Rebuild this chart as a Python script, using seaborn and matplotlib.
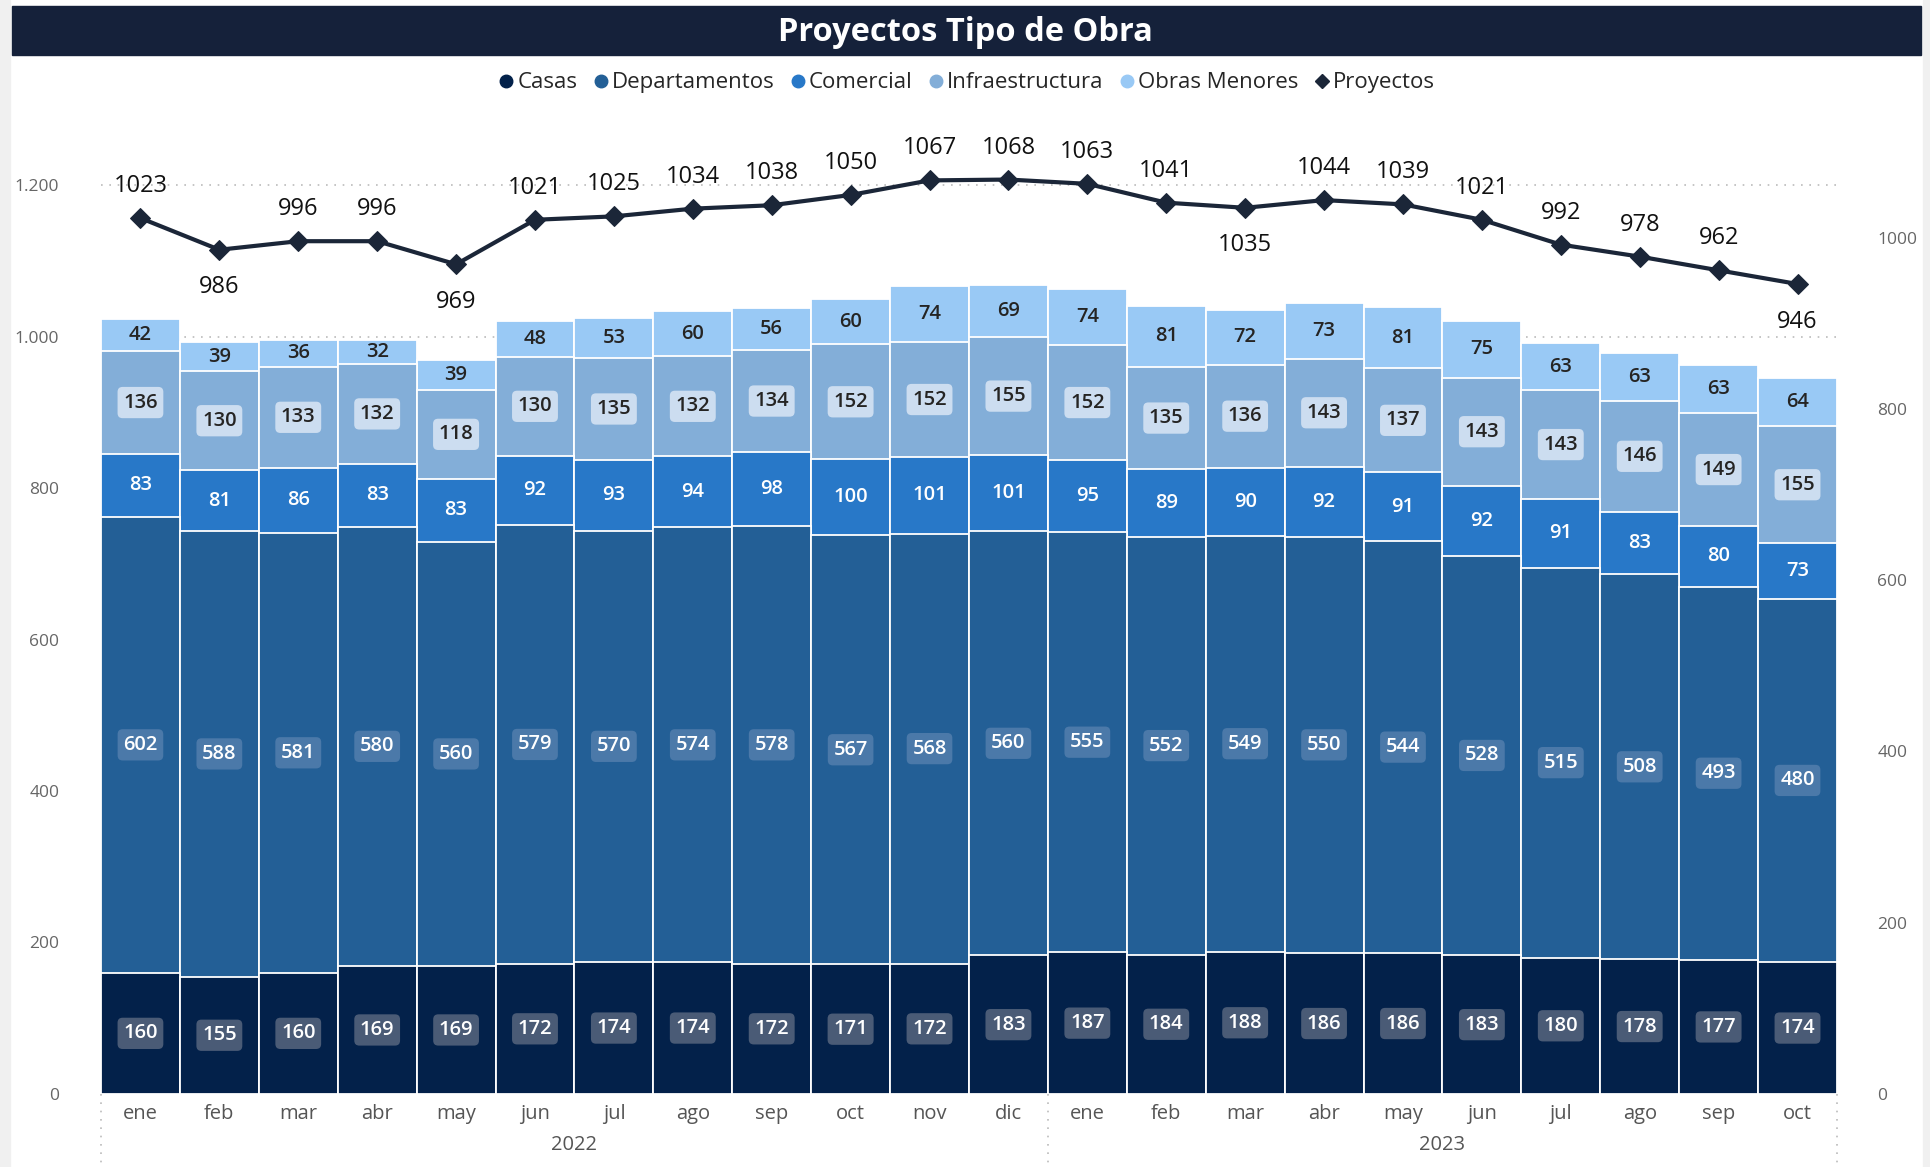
import matplotlib
matplotlib.use("Agg")
import matplotlib.pyplot as plt
import seaborn as sns
import numpy as np
import pandas as pd
from matplotlib.patches import Rectangle
from matplotlib.lines import Line2D
from matplotlib.ticker import FuncFormatter

# datos
meses = ["ene", "feb", "mar", "abr", "may", "jun", "jul", "ago", "sep", "oct", "nov", "dic",
         "ene", "feb", "mar", "abr", "may", "jun", "jul", "ago", "sep", "oct"]
anios = ["2022"] * 12 + ["2023"] * 10
casas = [160, 155, 160, 169, 169, 172, 174, 174, 172, 171, 172, 183,
         187, 184, 188, 186, 186, 183, 180, 178, 177, 174]
departamentos = [602, 588, 581, 580, 560, 579, 570, 574, 578, 567, 568, 560,
                 555, 552, 549, 550, 544, 528, 515, 508, 493, 480]
comercial = [83, 81, 86, 83, 83, 92, 93, 94, 98, 100, 101, 101,
             95, 89, 90, 92, 91, 92, 91, 83, 80, 73]
infraestructura = [136, 130, 133, 132, 118, 130, 135, 132, 134, 152, 152, 155,
                   152, 135, 136, 143, 137, 143, 143, 146, 149, 155]
obras_menores = [42, 39, 36, 32, 39, 48, 53, 60, 56, 60, 74, 69,
                 74, 81, 72, 73, 81, 75, 63, 63, 63, 64]
proyectos = [1023, 986, 996, 996, 969, 1021, 1025, 1034, 1038, 1050, 1067, 1068,
             1063, 1041, 1035, 1044, 1039, 1021, 992, 978, 962, 946]
etiqueta_abajo = [1, 4, 14, 21]

series = ["Casas", "Departamentos", "Comercial", "Infraestructura", "Obras Menores"]
valores = [casas, departamentos, comercial, infraestructura, obras_menores]
colores = ["#03214A", "#235F96", "#2878C8", "#83AED8", "#99C9F5"]
texto_col = ["white", "white", "white", "#252423", "#252423"]
caja_col = ["#4A5B76", "#4B79A9", None, "#CCDDF0", None]

periodo = [f"{m} {a}" for m, a in zip(meses, anios)]
df = pd.DataFrame({"periodo": periodo})
for s, v in zip(series, valores):
    df[s] = v

sns.set_theme(style="white")
plt.rcParams["font.family"] = ["Open Sans", "DejaVu Sans"]

fig = plt.figure(figsize=(19.31, 11.67), dpi=100)
ax = fig.add_axes([0.0523, 0.0626, 0.899, 0.8371])

# barras apiladas (se dibuja el acumulado de arriba hacia abajo)
acum = np.cumsum(np.array(valores), axis=0)
for i in range(len(series) - 1, -1, -1):
    sns.barplot(x=df["periodo"], y=acum[i], order=periodo, color=colores[i], width=1,
                edgecolor="white", linewidth=1.3, saturation=1, ax=ax)

# etiquetas de las barras
for i in range(len(series)):
    base = acum[i] - np.array(valores[i])
    for j, v in enumerate(valores[i]):
        kw = {}
        if caja_col[i]:
            kw["bbox"] = dict(boxstyle="round,pad=0.28,rounding_size=0.25", fc=caja_col[i], ec="none")
        ax.text(j, base[j] + v / 2, str(v), ha="center", va="center", fontsize=14.5,
                color=texto_col[i], fontweight="semibold", **kw)

ax.set_xlim(-0.5, len(periodo) - 0.5)
ax.set_ylim(0, 1290)
ax.set_yticks([0, 200, 400, 600, 800, 1000, 1200])
ax.yaxis.set_major_formatter(FuncFormatter(lambda v, p: f"{int(v):,}".replace(",", ".")))
ax.grid(axis="y", linestyle=(0, (1, 4)), color="#BBBBBB", linewidth=1.2)
ax.set_axisbelow(True)
ax.tick_params(axis="y", labelsize=12.5, labelcolor="#666666", length=0, pad=30)
ax.set_xticks(range(len(meses)))
ax.set_xticklabels(meses)
ax.tick_params(axis="x", labelsize=14.5, labelcolor="#555555", length=0, pad=7)
ax.set_xlabel("")
ax.set_ylabel("")
for sp in ax.spines.values():
    sp.set_visible(False)

# años y separadores
for x0, x1, a in [(-0.5, 11.5, "2022"), (11.5, 21.5, "2023")]:
    ax.text((x0 + x1) / 2, -0.052, a, transform=ax.get_xaxis_transform(), ha="center",
            va="center", fontsize=14.5, color="#555555")
for xs in [-0.5, 11.5, 21.5]:
    ax.plot([xs, xs], [0, -0.085], transform=ax.get_xaxis_transform(), clip_on=False,
            color="#BBBBBB", linestyle=(0, (1, 4)), linewidth=1.2)

# línea de proyectos
ax2 = ax.twinx()
sns.lineplot(x=np.arange(len(proyectos)), y=proyectos, ax=ax2, color="#1B2638", linewidth=3,
             marker="D", markersize=10, markeredgecolor="#1B2638")
ax2.set_ylim(0, 1141)
ax2.set_yticks([0, 200, 400, 600, 800, 1000])
ax2.tick_params(axis="y", labelsize=12.5, labelcolor="#666666", length=0, pad=29)
ax2.set_ylabel("")
for sp in ax2.spines.values():
    sp.set_visible(False)
for j, v in enumerate(proyectos):
    dy = -27 if j in etiqueta_abajo else 23
    ax2.annotate(str(v), (j, v), xytext=(0, dy), textcoords="offset points", ha="center",
                 va="center", fontsize=17, color="#111111")

# marco, título y leyenda
fig.patches.append(Rectangle((0, 0), 0.0052, 1, transform=fig.transFigure, color="#F0F0F0", zorder=0))
fig.patches.append(Rectangle((0.9958, 0), 0.0042, 1, transform=fig.transFigure, color="#F0F0F0", zorder=0))
fig.patches.append(Rectangle((0.0062, 0.9529), 0.9886, 0.042, transform=fig.transFigure,
                             color="#15213A", zorder=1))
fig.text(0.5, 0.972, "Proyectos Tipo de Obra", ha="center", va="center", color="white",
         fontsize=23.5, fontweight="bold")

handles = [Line2D([], [], marker="o", linestyle="", color=c, markersize=9) for c in colores]
handles.append(Line2D([], [], marker="D", linestyle="", color="#1B2638", markersize=7))
fig.legend(handles, series + ["Proyectos"], loc="center", bbox_to_anchor=(0.5, 0.929),
           ncol=6, frameon=False, fontsize=16, handletextpad=0.05, columnspacing=0.6,
           handlelength=0.9)

fig.savefig("out.png", dpi=100)
